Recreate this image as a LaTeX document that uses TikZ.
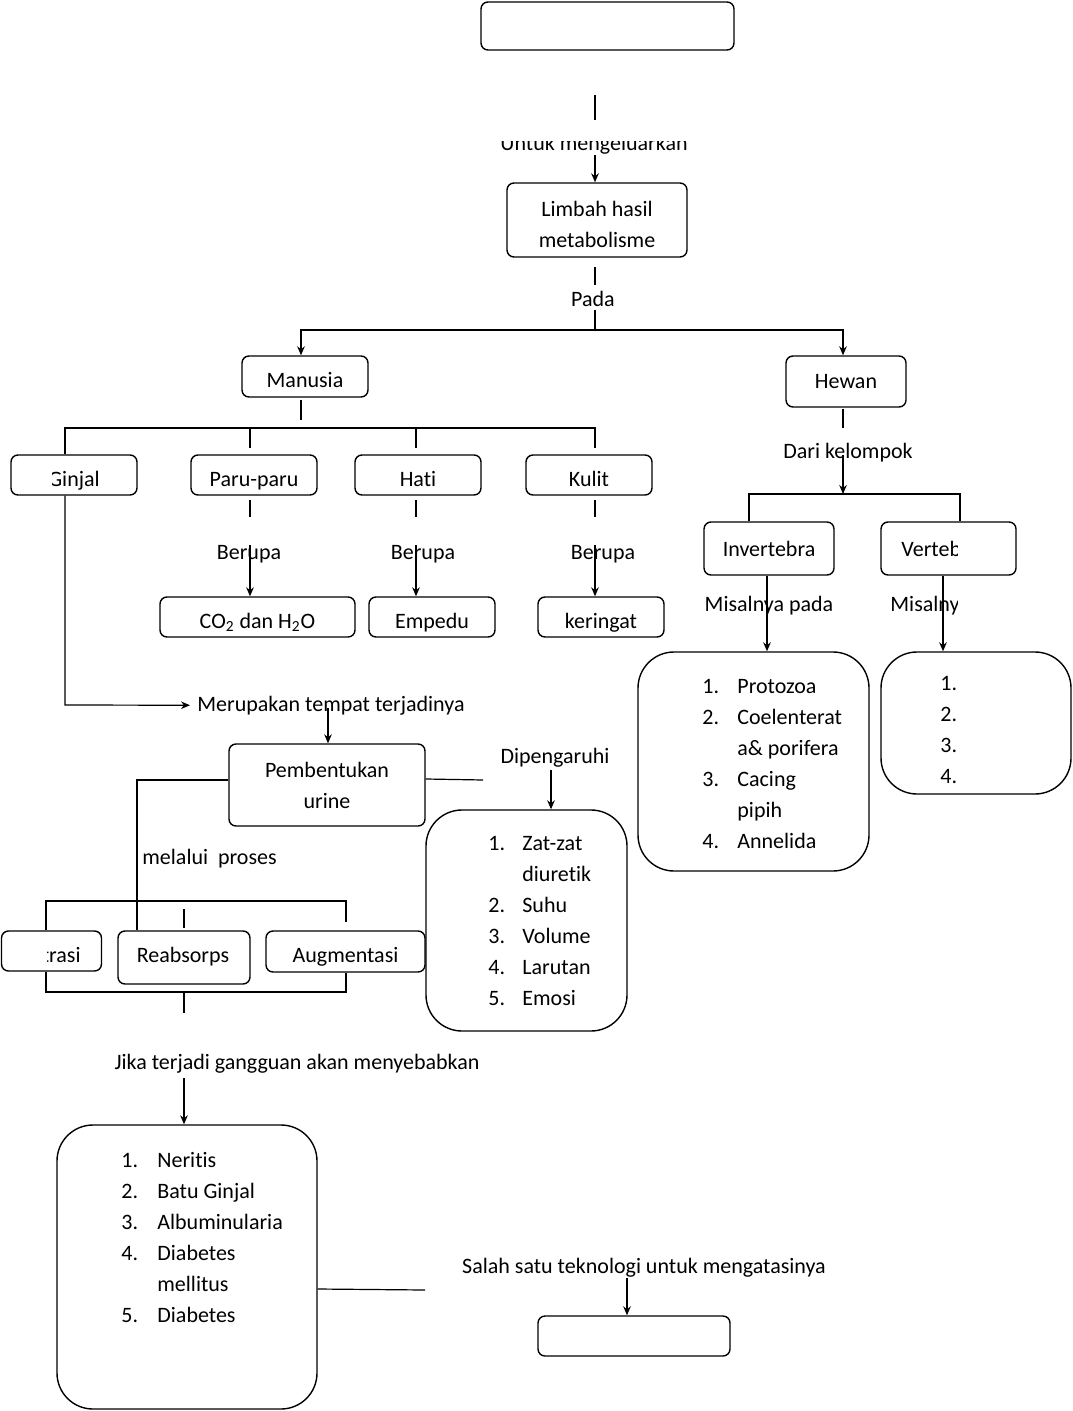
\documentclass[tikz,border=0pt]{standalone}
\usepackage{fontspec}
\setmainfont[Ligatures={NoCommon,NoContextual}]{Carlito}
\usetikzlibrary{arrows.meta}
\begin{document}
\begin{tikzpicture}[x=0.5pt,y=-0.5pt,
  font=\fontsize{11}{15.5}\selectfont,
  box/.style={draw, rounded corners=3.5pt, line width=0.7pt, inner sep=0pt},
  bigbox/.style={draw, rounded corners=18pt, line width=0.7pt, inner sep=0pt},
  sz/.style 2 args={minimum width=#1*0.5pt, minimum height=#2*0.5pt},
  ln/.style={line width=0.6pt},
  arr/.style={line width=0.6pt, -{Stealth[length=4.5pt,width=3.8pt]}},
  lbl/.style={inner sep=0pt, yshift=-1.2pt},
  tb/.style={inner sep=0pt, anchor=base, yshift=-16pt},
  tbm/.style={inner sep=0pt, anchor=base, yshift=-17pt},
  lst/.style={inner sep=0pt, anchor=base west},
]
\useasboundingbox (0,0) rectangle (1072,1411);

% ---------- boxes ----------
\node[box, sz={253}{48}] (top) at (607.5,26) {};
\node[box, sz={180}{74}] (limbah) at (597,220) {};
\node[box, sz={126}{41}] (manusia) at (305,376.5) {};
\node[box, sz={120}{51}] (hewan) at (846,381.5) {};
\node[box, sz={126}{40}] (ginjal) at (74,475) {};
\node[box, sz={126}{40}] (paru) at (254,475) {};
\node[box, sz={126}{40}] (hati) at (418,475) {};
\node[box, sz={126}{40}] (kulit) at (589,475) {};
\node[box, sz={195}{40}] (co2) at (257.5,617) {};
\node[box, sz={126}{40}] (empedu) at (432,617) {};
\node[box, sz={126}{40}] (keringat) at (601,617) {};
\node[box, sz={196}{82}] (pemb) at (327,785) {};
\node[bigbox, sz={201}{221}] (dipbox) at (526.5,920.5) {};
\node[box, sz={100}{40}] (filt) at (51.5,951) {};
\node[box, sz={132}{53}] (reab) at (184,957.5) {};
\node[box, sz={159}{41}] (augm) at (345.5,951.5) {};
\node[bigbox, sz={260}{284}] (gangbox) at (187,1267) {};
\node[box, sz={192}{40}] (tekbox) at (634,1336) {};
\node[box, sz={130}{53}] (inv) at (769,548.5) {};
\node[box, sz={135}{53}] (vert) at (948.5,548.5) {};
\node[bigbox, sz={231}{219}] (invlist) at (753.5,761.5) {};
\node[bigbox, sz={190}{142}] (vertlist) at (976,723) {};

% ---------- box texts ----------
\node[tbm] (limbahT) at (limbah.north) {\begin{tabular}[t]{@{}c@{}}Limbah hasil\\metabolisme\end{tabular}};
\node[tb] (manusiaT) at (manusia.north) {Manusia};
\node[tb, yshift=-0.8pt] (hewanT) at (hewan.north) {Hewan};
\node[tb] (paruT) at (paru.north) {Paru-paru};
\node[tb] (hatiT) at (hati.north) {Hati};
\node[tb] (kulitT) at (kulit.north) {Kulit};
\node[tb] (co2T) at (co2.north) {CO\textsubscript{2} dan H\textsubscript{2}O};
\node[tb] (empeduT) at (empedu.north) {Empedu};
\node[tb] (keringatT) at (keringat.north) {keringat};
\node[tbm] (pembT) at (pemb.north) {\begin{tabular}[t]{@{}c@{}}Pembentukan\\urine\end{tabular}};
\node[tb] (reabT) at ([xshift=-0.5pt]reab.north) {Reabsorps};
\node[tb] (augmT) at (augm.north) {Augmentasi};
\node[tb, yshift=-1.5pt] (invT) at (inv.north) {Invertebra};

% ---------- clipped texts ----------
\begin{scope}
  \clip (480,142) rectangle (720,165);
  \node[inner sep=0pt, anchor=base] (untuk) at (594,151) {Untuk mengeluarkan};
\end{scope}
\begin{scope}
  \clip (52,460) rectangle (130,492);
  \node[inner sep=0pt, anchor=base] (ginjaltext) at (74,486) {Ginjal};
\end{scope}
\begin{scope}
  \clip (47,935) rectangle (98,968);
  \node[inner sep=0pt, anchor=base east] (filttext) at (81,962) {Filtrasi};
\end{scope}
\begin{scope}
  \clip (885,527) rectangle (957,572);
  \node[inner sep=0pt, anchor=base west] (verttext) at (901,556) {Vertebrata};
\end{scope}
\begin{scope}
  \clip (880,590) rectangle (957,622);
  \node[inner sep=0pt, anchor=base west] (misal2) at (890,611) {Misalnya pada};
\end{scope}

% ---------- labels ----------
\node[lbl] (pada) at (593,297) {Pada};
\node[lbl] (berupa1) at (249,552) {Berupa};
\node[lbl] (berupa2) at (423,552) {Berupa};
\node[lbl] (berupa3) at (603,552) {Berupa};
\node[inner sep=0pt, anchor=base west] (merupakan) at (197,711) {Merupakan tempat terjadinya};
\node[lbl] (dipeng) at (555,755) {Dipengaruhi};
\node[inner sep=0pt, anchor=base west] (melalui) at (142,864) {melalui\ \ proses};
\node[lbl] (jika) at (297,1061) {Jika terjadi gangguan akan menyebabkan};
\node[lbl] (salah) at (644,1265) {Salah satu teknologi untuk mengatasinya};
\node[lbl] (dari) at (848,450) {Dari kelompok};
\node[lbl] (misal1) at (769,603) {Misalnya pada};

% ---------- lists ----------
\node[lst] (dipl) at (488,850) {\begin{tabular}[t]{@{}p{17pt}@{}l@{}}
1. & Zat-zat\\ & diuretik\\ 2. & Suhu\\ 3. & Volume\\ 4. & Larutan\\ 5. & Emosi\end{tabular}};
\node[lst] (invl) at (702,693) {\begin{tabular}[t]{@{}p{17.5pt}@{}l@{}}
1. & Protozoa\\ 2. & Coelenterat\\ & a\& porifera\\ 3. & Cacing\\ & pipih\\ 4. & Annelida\end{tabular}};
\node[lst] (vertl) at (940,690) {\begin{tabular}[t]{@{}l@{}}
1.\\ 2.\\ 3.\\ 4.\end{tabular}};
\node[lst] (gangl) at (121,1167) {\begin{tabular}[t]{@{}p{18pt}@{}l@{}}
1. & Neritis\\ 2. & Batu Ginjal\\ 3. & Albuminularia\\ 4. & Diabetes\\ & mellitus\\ 5. & Diabetes\end{tabular}};

% ---------- connectors ----------
\coordinate (u1) at (595,95);
\coordinate (u2) at (595,120);
\draw[ln, line width=1pt] (u1) -- (u2);
\draw[arr] (595,155) -- (limbah.north -| u1);

\draw[ln] (limbah.south -| u1) ++(0,9) -- (595,285);
\coordinate (p1) at (595,330);
\draw[ln] (595,310) -- (p1);
\draw[arr] (p1) -| ([xshift=-2pt]manusia.north);
\draw[arr] (p1) -| ([xshift=-1.5pt]hewan.north);

% Manusia branch
\draw[ln] (301,400) -- (301,420);
\coordinate (h1) at (65,428);
\coordinate (h2) at (595,428);
\draw[ln] (ginjal.north -| h1) -- (h1) -- (h2) -- (595,448);
\draw[ln] (250,428) -- (250,448);
\draw[ln] (416,428) -- (416,448);

\draw[ln] (250,500) -- (250,517);
\draw[ln] (416,500) -- (416,517);
\draw[ln] (595,500) -- (595,517);
\draw[arr] (250,545) -- (co2.north -| 250,0);
\draw[arr] (416,545) -- (empedu.north -| 416,0);
\draw[arr] (595,545) -- (keringat.north -| 595,0);

% Ginjal -> Merupakan
\coordinate (g1) at (65,705);
\draw[arr] (ginjal.south -| g1) -- (g1) -- ([xshift=-3.5pt]merupakan.west);
\draw[arr] (328,708) -- (pemb.north -| 328,0);

% Pembentukan -> Dipengaruhi
\coordinate (d1) at (483,780);
\draw[ln] ([yshift=3pt]pemb.east) -- (d1);
\draw[arr] (551,770) -- (dipbox.north -| 551,0);

% Pembentukan -> processes
\draw[ln] ([yshift=2.5pt]pemb.west) -| (reab.north -| 137,0);
\draw[ln] (filt.north -| 46,0) -- (46,901) -- (346,901) -- (346,922);
\draw[ln] (184,909) -- (184,928);
\draw[ln] (filt.south -| 46,0) -- (46,992) -- (346,992) -- (augm.south -| 346,0);
\draw[ln] (184,992) -- (184,1013);
\draw[arr] (184,1078) -- (gangbox.north -| 184,0);

% gangguan -> teknologi
\draw[ln] (gangbox.east |- 0,1289) -- (425,1290);
\draw[arr] (627,1278) -- (tekbox.north -| 627,0);

% Hewan branch
\draw[ln] (hewan.south -| 843,0) ++(0,1) -- (843,428);
\coordinate (k1) at (843,494);
\draw[arr] (843,455) -- (k1);
\draw[ln, line width=0.9pt] (inv.north -| 749,0) -- (749,494) -- (960,494) -- (vert.north -| 960,0);
\draw[arr] (inv.south -| 767,0) -- (invlist.north -| 767,0);
\draw[arr] (vert.south -| 943,0) -- (vertlist.north -| 943,0);
\end{tikzpicture}
\end{document}
